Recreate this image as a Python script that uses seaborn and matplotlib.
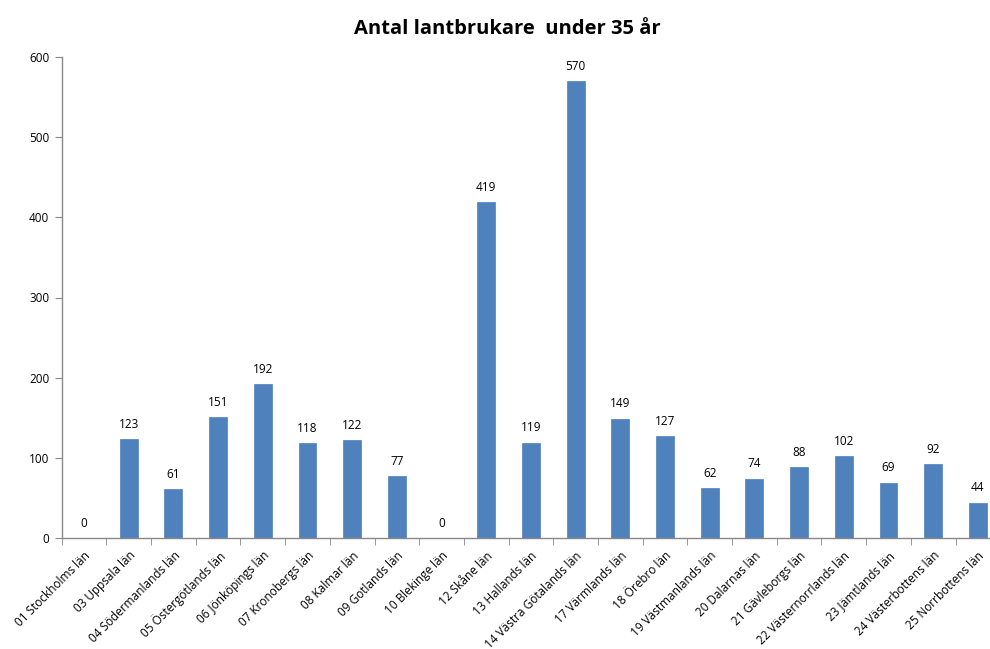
import matplotlib
matplotlib.use('Agg')
import matplotlib.pyplot as plt
import seaborn as sns
import pandas as pd
import numpy as np

counties = ['01 Stockholms län', '03 Uppsala län', '04 Södermanlands län', '05 Östergötlands län',
            '06 Jönköpings län', '07 Kronobergs län', '08 Kalmar län', '09 Gotlands län',
            '10 Blekinge län', '12 Skåne län', '13 Hallands län', '14 Västra Götalands län',
            '17 Värmlands län', '18 Örebro län', '19 Västmanlands län', '20 Dalarnas län',
            '21 Gävleborgs län', '22 Västernorrlands län', '23 Jämtlands län',
            '24 Västerbottens län', '25 Norrbottens län']
farmers = [0, 123, 61, 151, 192, 118, 122, 77, 0, 419, 119, 570, 149, 127, 62, 74, 88, 102, 69, 92, 44]
y_ticks = [0, 100, 200, 300, 400, 500, 600]

df = pd.DataFrame({'lan': counties, 'antal': farmers})

sns.set_style('white', {'text.color': 'black', 'xtick.color': 'black', 'ytick.color': 'black'})
plt.rcParams['font.family'] = ['Open Sans', 'DejaVu Sans']

fig = plt.figure(figsize=(9.9, 6.49), dpi=100)
ax = fig.add_axes([61.7 / 990, 111 / 649, 938.5 / 990, 481 / 649])

sns.barplot(x='lan', y='antal', data=df, color='#4F81BD', saturation=1, width=0.4,
            edgecolor='#4F81BD', linewidth=0.5, ax=ax)

for i, v in enumerate(farmers):
    ax.annotate(str(v), (i, v), xytext=(0, 6), textcoords='offset points',
                ha='center', va='bottom', fontsize=8.5, color='black')

ax.set_ylim(0, 600)
ax.set_xlim(-0.5, len(counties) - 0.5)
ax.set_yticks(y_ticks)
ax.set_yticklabels([str(t) for t in y_ticks], fontsize=8.5)
ax.set_xticks(range(len(counties)))
ax.set_xticklabels(counties, rotation=45, ha='right', rotation_mode='anchor', fontsize=8.5)
ax.set_xticks(np.arange(len(counties)) - 0.5, minor=True)
ax.tick_params(axis='x', which='major', length=0, pad=8, labelcolor='black')
ax.tick_params(axis='x', which='minor', length=5, color='#888888', direction='out', bottom=True)
ax.tick_params(axis='y', length=5, color='#888888', direction='out', left=True, pad=4, labelcolor='black')
ax.set_xlabel('')
ax.set_ylabel('')

for s in ['top', 'right']:
    ax.spines[s].set_visible(False)
for s in ['left', 'bottom']:
    ax.spines[s].set_color('#888888')
    ax.spines[s].set_linewidth(1)

fig.text(0.512, 0.955, 'Antal lantbrukare  under 35 år', ha='center', va='center',
         fontsize=14.5, fontweight='bold', color='black')

fig.savefig('out.png', dpi=100)
